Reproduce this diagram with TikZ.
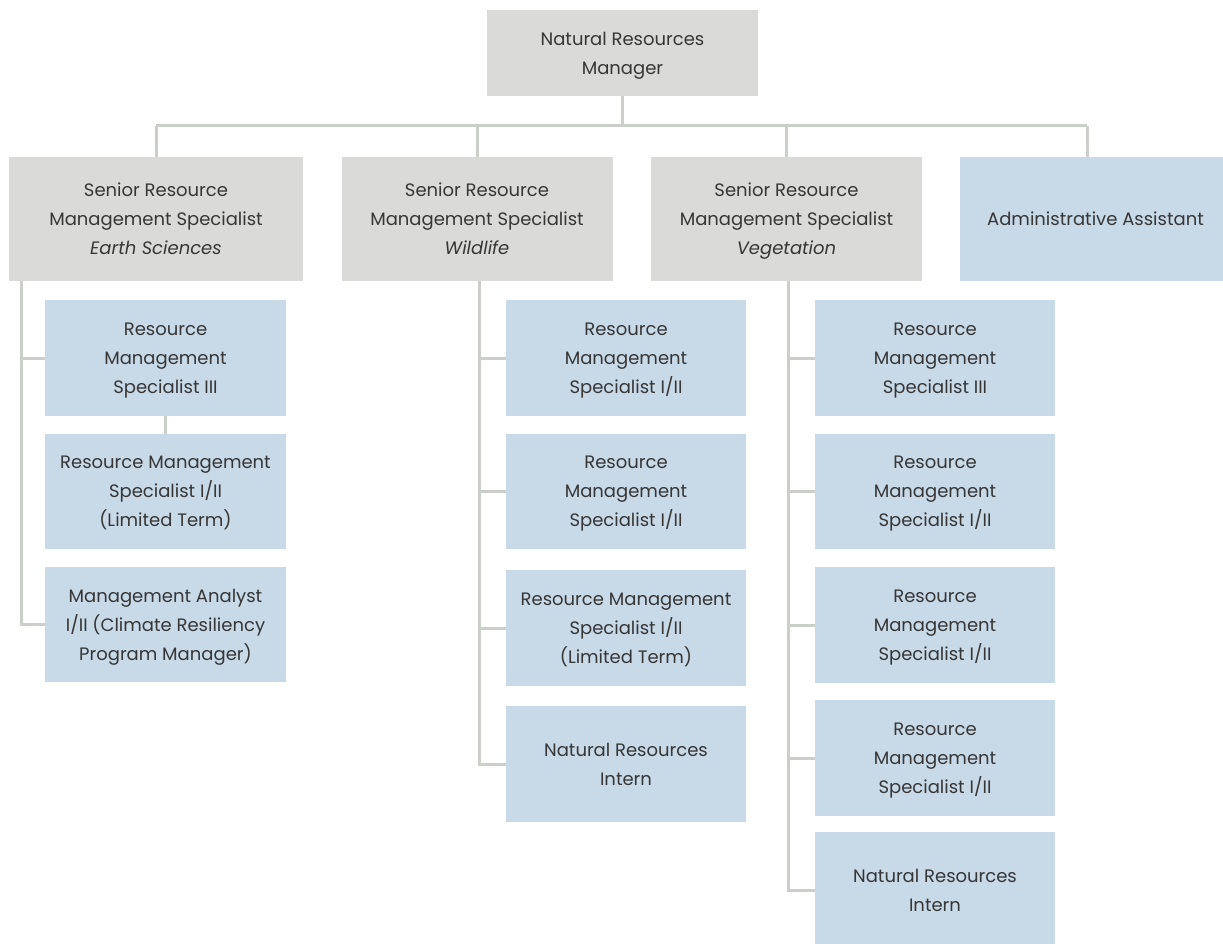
\documentclass[tikz,border=0pt]{standalone}
\usepackage{fontspec}
\setmainfont{Poppins}
\definecolor{boxgray}{HTML}{DADBD9}
\definecolor{boxblue}{HTML}{C8D9E8}
\definecolor{linkgray}{HTML}{CACFCA}
\definecolor{inkgray}{HTML}{363636}
\begin{document}
\begin{tikzpicture}[x=1pt,y=-1pt,
  card/.style={rectangle, inner sep=0pt, align=center, text=inkgray,
    font=\fontsize{18}{29}\selectfont, text depth=0pt},
  headcard/.style={card, fill=boxgray, minimum width=271, minimum height=86},
  seniorcard/.style={card, fill=boxgray, minimum width=271, minimum height=124},
  staffcard/.style={card, fill=boxblue, minimum width=240, minimum height=115.5},
  link/.style={draw=linkgray, line width=3pt}]
\useasboundingbox (0,0) rectangle (1223,944);

% manager and direct reports
\node[headcard] (mgr) at (622.5,53) {Natural Resources\\Manager};
\node[seniorcard, minimum width=294] (earth) at (156,219)
  {Senior Resource\\Management Specialist\\\textit{Earth Sciences}};
\node[seniorcard] (wild) at (477,219)
  {Senior Resource\\Management Specialist\\\textit{Wildlife}};
\node[seniorcard] (veg) at (786.5,219)
  {Senior Resource\\Management Specialist\\\textit{Vegetation}};
\node[seniorcard, fill=boxblue] (admin) at (1095.5,219) {Administrative Assistant};

% earth sciences team
\node[staffcard, minimum width=241] (e1) at (165.5,358) {Resource\\Management\\Specialist III};
\node[staffcard, minimum width=241] (e2) at (165.5,491.5) {Resource Management\\Specialist I/II\\(Limited Term)};
\node[staffcard, minimum width=241] (e3) at (165.5,624.5) {Management Analyst\\I/II (Climate Resiliency\\Program Manager)};

% wildlife team
\node[staffcard] (w1) at (626,358) {Resource\\Management\\Specialist I/II};
\node[staffcard] (w2) at (626,491.5) {Resource\\Management\\Specialist I/II};
\node[staffcard] (w3) at (626,628) {Resource Management\\Specialist I/II\\(Limited Term)};
\node[staffcard] (w4) at (626,764) {Natural Resources\\Intern};

% vegetation team
\node[staffcard] (v1) at (935,358) {Resource\\Management\\Specialist III};
\node[staffcard] (v2) at (935,491.5) {Resource\\Management\\Specialist I/II};
\node[staffcard] (v3) at (935,625) {Resource\\Management\\Specialist I/II};
\node[staffcard] (v4) at (935,758) {Resource\\Management\\Specialist I/II};
\node[staffcard] (v5) at (935,890) {Natural Resources\\Intern};

% bus under the manager
\coordinate (busL) at (157,126);
\coordinate (busR) at (1087,126);
\draw[link] (mgr.south) -- (mgr.south |- busL);
\draw[link] (busL -| earth.north) -- (busR);
\draw[link] (busL -| earth.north) -- (earth.north);
\draw[link] (busL -| wild.north) -- (wild.north);
\draw[link] (busL -| veg.north) -- (veg.north);
\draw[link] (busR) -- (busR |- admin.north);

% earth sciences spine
\coordinate (espine) at (21,281);
\draw[link] (espine) |- (e3.west);
\draw[link] (e1.west) -- (e1.west -| espine);
\draw[link] (e1.south) -- (e2.north);

% wildlife spine
\coordinate (wspine) at (479,281);
\draw[link] (wspine) |- (w4.west);
\foreach \n in {w1,w2,w3}
  \draw[link] (\n.west) -- (\n.west -| wspine);

% vegetation spine
\coordinate (vspine) at (788,281);
\draw[link] (vspine) |- (v5.west);
\foreach \n in {v1,v2,v3,v4}
  \draw[link] (\n.west) -- (\n.west -| vspine);
\end{tikzpicture}
\end{document}
